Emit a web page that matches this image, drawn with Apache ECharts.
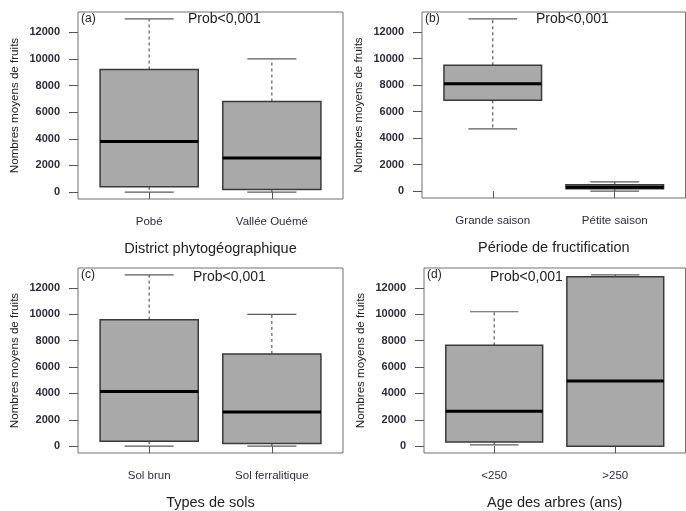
<!DOCTYPE html>
<html>
<head>
<meta charset="utf-8">
<script src="https://cdn.jsdelivr.net/npm/echarts@6/dist/echarts.min.js"></script>
<style>html,body{margin:0;padding:0;background:#fff}#c{width:686px;height:511px}</style>
</head>
<body>
<div id="c"></div>
<script>
// ---- data ----
const panelTags = ['(a)', '(b)', '(c)', '(d)'];
const probText = 'Prob<0,001';
const yAxisTitle = 'Nombres moyens de fruits';
const xAxisTitles = ['District phytogéographique', 'Période de fructification', 'Types de sols', 'Age des arbres (ans)'];
const catsA = ['Pobé', 'Vallée Ouémé'];
const catsB = ['Grande saison', 'Pétite saison'];
const catsC = ['Sol brun', 'Sol ferralitique'];
const catsD = ['<250', '>250'];
// [min, Q1, median, Q3, max]
const statsA = [[0, 400, 3800, 9200, 13000], [0, 200, 2550, 6800, 10000]];
const statsB = [[4700, 6850, 8100, 9500, 13000], [0, 170, 300, 480, 700]];
const statsC = [[0, 380, 4150, 9600, 13000], [0, 200, 2600, 7000, 10000]];
const statsD = [[100, 320, 2650, 7650, 10200], [0, 0, 4950, 12850, 13000]];
const yTicks = [0, 2000, 4000, 6000, 8000, 10000, 12000];
const yTickLabels = ['0', '2000', '4000', '6000', '8000', '10000', '12000'];

const cats = [catsA, catsB, catsC, catsD];
const stats = [statsA, statsB, statsC, statsD];

// ---- layout ----
const grids = [
  {left: 78, top: 12, width: 265, height: 187},
  {left: 422, top: 12, width: 263.5, height: 186},
  {left: 78, top: 268, width: 265, height: 187},
  {left: 424, top: 268, width: 261.5, height: 187}
];
const FONT = '"Liberation Sans", Arial, sans-serif';
const FILL = '#a9a9a9', BORDER = '#3a3a3a', WHISK = '#5a5a5a', FRAME = '#707070';

function renderItem(params, api) {
  const x = api.value(0);
  const mn = api.value(1), q1 = api.value(2), md = api.value(3), q3 = api.value(4), mx = api.value(5);
  const hw = 0.4, sw = 0.2;
  const c = (a, b) => api.coord([a, b]);
  const tl = c(x - hw, q3), br = c(x + hw, q1);
  const mid = c(x, 0)[0];
  const wStyle = {stroke: WHISK, lineWidth: 1.2, lineDash: [3, 3]};
  const capStyle = {stroke: WHISK, lineWidth: 1.2};
  const children = [
    {type: 'line', shape: {x1: mid, y1: c(x, q3)[1], x2: mid, y2: c(x, mx)[1]}, style: wStyle},
    {type: 'line', shape: {x1: mid, y1: c(x, q1)[1], x2: mid, y2: c(x, mn)[1]}, style: wStyle},
    {type: 'line', shape: {x1: c(x - sw, mx)[0], y1: c(x, mx)[1], x2: c(x + sw, mx)[0], y2: c(x, mx)[1]}, style: capStyle},
    {type: 'line', shape: {x1: c(x - sw, mn)[0], y1: c(x, mn)[1], x2: c(x + sw, mn)[0], y2: c(x, mn)[1]}, style: capStyle},
    {type: 'rect', shape: {x: tl[0], y: tl[1], width: br[0] - tl[0], height: br[1] - tl[1]},
      style: {fill: FILL, stroke: BORDER, lineWidth: 1.5}},
    {type: 'line', shape: {x1: tl[0], y1: c(x, md)[1], x2: br[0], y2: c(x, md)[1]},
      style: {stroke: '#000', lineWidth: 3}}
  ];
  return {type: 'group', children};
}

const option = {
  animation: false,
  backgroundColor: '#fff',
  grid: grids.map(g => Object.assign({show: true, borderColor: FRAME, borderWidth: 1, backgroundColor: 'transparent'}, g)),
  xAxis: grids.map((g, i) => ({
    type: 'value', gridIndex: i, min: 0.42, max: 2.58,
    axisLine: {show: false},
    splitLine: {show: false},
    axisTick: {show: true, length: 7, customValues: [1, 2], lineStyle: {color: '#555'}},
    axisLabel: {show: true, customValues: [1, 2], margin: 17, color: '#2d2d3a', fontSize: 11.5, fontFamily: FONT,
      formatter: v => cats[i][Math.round(v) - 1] || ''},
    name: xAxisTitles[i], nameLocation: 'middle', nameGap: 42,
    nameTextStyle: {color: '#222', fontSize: 14.5, fontFamily: FONT}
  })),
  yAxis: grids.map((g, i) => ({
    type: 'value', gridIndex: i, min: -520, max: 13520,
    axisLine: {show: false},
    splitLine: {show: false},
    axisTick: {show: true, length: 9, customValues: yTicks, lineStyle: {color: '#555'}},
    axisLabel: {show: true, customValues: yTicks, margin: 18, color: '#2d2d3a', fontSize: 11, fontWeight: 'bold', fontFamily: FONT,
      formatter: v => yTickLabels[yTicks.indexOf(v)] ?? String(v)},
    name: yAxisTitle, nameLocation: 'middle', nameGap: 57, nameRotate: 90,
    nameTextStyle: {color: '#222', fontSize: 11.6, fontFamily: FONT}
  })),
  series: stats.map((s, i) => ({
    type: 'custom', xAxisIndex: i, yAxisIndex: i, clip: false,
    renderItem,
    encode: {x: 0, y: [1, 2, 3, 4, 5]},
    data: s.map((row, k) => [k + 1].concat(row))
  })),
  graphic: [].concat(
    grids.map((g, i) => ({type: 'text', left: g.left + 3, top: g.top + 1,
      style: {text: panelTags[i], fill: '#222', font: '12px ' + FONT}})),
    [[188, 12], [536, 12], [193, 270], [490, 270]].map(p => ({type: 'text', left: p[0], top: p[1],
      style: {text: probText, fill: '#222', font: '14px ' + FONT}}))
  )
};
const chart = echarts.init(document.getElementById('c'), null, {renderer: 'canvas'});
chart.setOption(option);
</script>
</body>
</html>
